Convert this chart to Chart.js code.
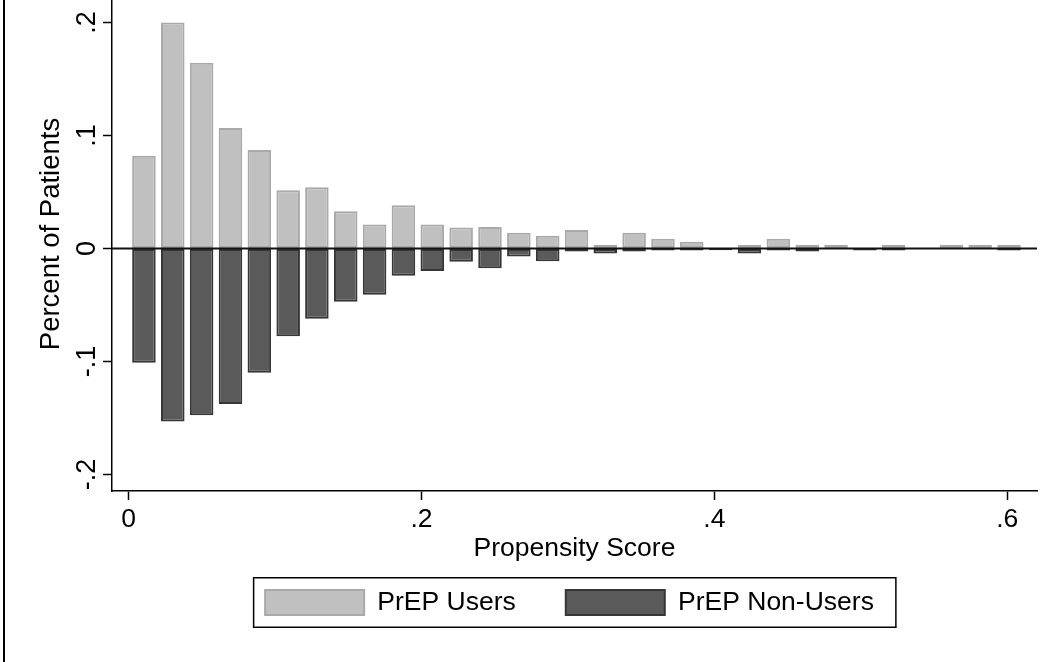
<!DOCTYPE html>
<html>
<head>
<meta charset="utf-8">
<script src="https://cdn.jsdelivr.net/npm/chart.js@4.4.1/dist/chart.umd.min.js"></script>
<style>
  html, body { margin: 0; padding: 0; background: #ffffff; overflow: hidden; }
  #wrap { width: 1052px; height: 685px; position: relative; margin-top: -23px; }
</style>
</head>
<body>
<div id="wrap"><canvas id="c"></canvas></div>
<script>
// ---- data ----
const binCenters = [0.0105, 0.0302, 0.0499, 0.0696, 0.0893, 0.1090, 0.1286, 0.1483, 0.1680, 0.1877,
                    0.2074, 0.2271, 0.2468, 0.2665, 0.2862, 0.3059, 0.3255, 0.3452, 0.3649, 0.3846,
                    0.4043, 0.4240, 0.4437, 0.4634, 0.4831, 0.5028, 0.5224, 0.5421, 0.5618, 0.5815, 0.6012];
const usersPct = [0.082, 0.200, 0.1644, 0.1067, 0.0871, 0.0516, 0.0542, 0.0329, 0.0213, 0.0382,
                  0.0213, 0.0187, 0.0190, 0.0139, 0.0112, 0.0165, 0.0033, 0.0139, 0.0086, 0.0060,
                  null, 0.0033, 0.0086, 0.0033, 0.0033, null, 0.0033, null, 0.0033, 0.0033, 0.0033];
const nonUsersPct = [-0.101, -0.153, -0.1475, -0.1375, -0.110, -0.0776, -0.0622, -0.0472, -0.041, -0.0242,
                     -0.020, -0.0118, -0.0175, -0.0071, -0.0112, -0.0027, -0.0044, -0.0027, -0.0018, -0.0018,
                     -0.0015, -0.0044, -0.0018, -0.0027, null, -0.0018, -0.0018, null, null, null, -0.0018];
const seriesNames = ['PrEP Users', 'PrEP Non-Users'];
const xTickVals = [0, 0.2, 0.4, 0.6];
const xTickLabels = ['0', '.2', '.4', '.6'];
const yTickVals = [-0.2, -0.1, 0, 0.1, 0.2];
const yTickLabels = ['-.2', '-.1', '0', '.1', '.2'];
const xTitle = 'Propensity Score';
const yTitle = 'Percent of Patients';

const FONT = '"Liberation Sans", Arial, Helvetica, sans-serif';

const toPoints = (vals) => binCenters.map((x, i) => ({ x: x, y: vals[i] }));

const zeroLinePlugin = {
  id: 'zeroLine',
  afterDatasetsDraw(chart) {
    const { ctx, chartArea, scales } = chart;
    const y = scales.y.getPixelForValue(0);
    ctx.save();
    ctx.strokeStyle = '#111';
    ctx.lineWidth = 2;
    ctx.beginPath();
    ctx.moveTo(chartArea.left, y);
    ctx.lineTo(chartArea.right, y);
    ctx.stroke();
    ctx.restore();
  }
};

const framePlugin = {
  id: 'frames',
  afterLayout(chart) {
    if (chart.legend) { chart.legend.left -= 5; chart.legend.right -= 5; }
  },
  beforeDraw(chart) {
    const { ctx, height } = chart;
    ctx.save();
    ctx.strokeStyle = '#000';
    ctx.lineWidth = 2;
    ctx.beginPath();
    ctx.moveTo(4, 0);
    ctx.lineTo(4, height);
    ctx.stroke();
    ctx.restore();
  },
  afterDraw(chart) {
    const lg = chart.legend;
    if (!lg || !lg.legendHitBoxes || !lg.legendHitBoxes.length) return;
    const hb = lg.legendHitBoxes;
    const first = hb[0], last = hb[hb.length - 1];
    const left = first.left - 11.5;
    const right = last.left + last.width + 22;
    const top = first.top - 11.5;
    const bottom = first.top + first.height + 11.5;
    const ctx = chart.ctx;
    ctx.save();
    ctx.strokeStyle = '#000';
    ctx.lineWidth = 1.5;
    ctx.strokeRect(left, top, right - left, bottom - top);
    ctx.restore();
  }
};

new Chart(document.getElementById('c'), {
  type: 'bar',
  data: {
    datasets: [
      {
        label: seriesNames[0],
        data: toPoints(usersPct),
        backgroundColor: '#c0c0c0',
        borderColor: '#a9a9a9',
        borderWidth: 2,
        borderSkipped: false,
        grouped: false,
        categoryPercentage: 1,
        barPercentage: 0.82
      },
      {
        label: seriesNames[1],
        data: toPoints(nonUsersPct),
        backgroundColor: '#5a5a5a',
        borderColor: '#363636',
        borderWidth: 2,
        borderSkipped: false,
        grouped: false,
        categoryPercentage: 1,
        barPercentage: 0.82
      }
    ]
  },
  options: {
    responsive: true,
    maintainAspectRatio: false,
    animation: false,
    devicePixelRatio: 1,
    layout: { padding: { left: 0, right: 15, top: 0, bottom: 36.25 } },
    plugins: {
      tooltip: { enabled: false },
      title: { display: false },
      legend: {
        position: 'bottom',
        fullSize: false,
        labels: {
          boxWidth: 99,
          boxHeight: 25,
          padding: 50,
          color: '#000',
          font: { family: FONT, size: 26.5 }
        }
      }
    },
    scales: {
      x: {
        type: 'linear',
        offset: false,
        min: -0.0113,
        max: 0.6203,
        afterBuildTicks(scale) { scale.ticks = xTickVals.map(v => ({ value: v })); },
        afterFit(scale) { scale.height = 48.25; scale.paddingLeft = 0; scale.paddingRight = 0; },
        grid: { offset: false, drawOnChartArea: false, drawTicks: true, tickLength: 9, tickColor: '#000', tickWidth: 1.5 },
        border: { display: true, color: '#000', width: 1.5 },
        ticks: {
          autoSkip: false, maxRotation: 0, minRotation: 0, padding: 4, color: '#000',
          font: { family: FONT, size: 26.5 },
          callback(value) { const i = xTickVals.indexOf(value); return i >= 0 ? xTickLabels[i] : ''; }
        },
        title: {
          display: true, text: xTitle, color: '#000',
          font: { family: FONT, size: 26.5 },
          padding: { top: 0, bottom: -25.6 }
        }
      },
      y: {
        min: -0.2146,
        max: 0.2403,
        afterBuildTicks(scale) { scale.ticks = yTickVals.map(v => ({ value: v })); },
        afterFit(scale) { scale.width = 112; scale.paddingTop = 0; scale.paddingBottom = 0; },
        grid: { drawOnChartArea: false, drawTicks: true, tickLength: 9, tickColor: '#000', tickWidth: 1.5 },
        border: { display: true, color: '#000', width: 1.5 },
        ticks: {
          autoSkip: false, minRotation: 90, maxRotation: 90, crossAlign: 'center', padding: 0, color: '#000',
          font: { family: FONT, size: 27 },
          callback(value) { const i = yTickVals.indexOf(value); return i >= 0 ? yTickLabels[i] : ''; }
        },
        title: {
          display: true, text: yTitle, color: '#000',
          font: { family: FONT, size: 27.5 },
          padding: { top: 34.5, bottom: 0 }
        }
      }
    }
  },
  plugins: [zeroLinePlugin, framePlugin]
});
</script>
</body>
</html>
